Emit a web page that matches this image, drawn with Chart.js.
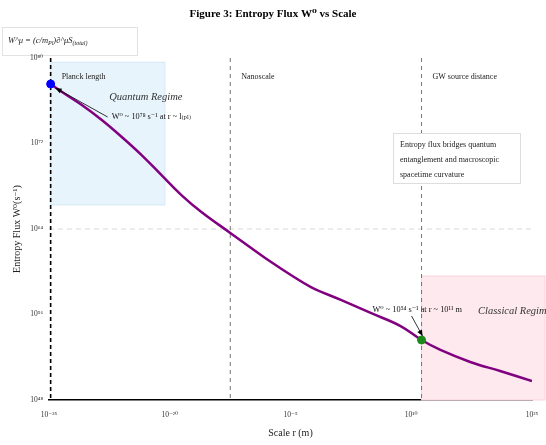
<!DOCTYPE html>
<html><head><meta charset="utf-8">
<script src="https://cdn.jsdelivr.net/npm/chart.js@4/dist/chart.umd.min.js"></script>
<style>html,body{margin:0;padding:0;background:#fff}#wrap{width:546px;height:445px;position:relative}</style>
</head><body><div id="wrap"><canvas id="c" width="546" height="445"></canvas></div>
<script>
// ---- data ----
const scaleR = [1.6e-35, 4.1e-34, 1.2e-31, 3.6e-29, 1.1e-26, 3.2e-24, 9.5e-22, 2.8e-19, 8.5e-17, 3.3e-13, 1.3e-10, 3.9e-8, 1.1e-5, 3.5e-3, 18, 9.1e4, 4.7e8, 1.9e11, 4.2e13, 2.1e17, 1.1e21, 1e25];
const entropyFlux = [3.7e77, 6.6e76, 4.0e75, 1.6e74, 4.1e72, 8.3e70, 1.1e69, 1.5e67, 3.9e65, 4.3e63, 1.7e62, 8.1e60, 5.0e59, 3.7e58, 2.3e57, 1.4e56, 8.3e54, 4.1e53, 4.8e52, 3.6e51, 5.1e50, 6.0e49];
const xTickExponents = [-35, -20, -5, 10, 25];
const yTickExponents = [48, 56, 64, 72, 80];
const planckPoint = [{x: 1.6e-35, y: 3.7e77}];
const gwPoint = [{x: 1.9e11, y: 4.1e53}];
const markerLines = [
  {x: 1.6e-35, label: 'Planck length'},
  {x: 3.3e-13, label: 'Nanoscale'},
  {x: 1.9e11, label: 'GW source distance'}
];
const quantumRegion = {x0: 1.6e-35, x1: 2.5e-21, y0: 1.8e66, y1: 4e79};
const classicalRegion = {x0: 1.9e11, y0: 1e48, y1: 4e59};
const gridLineY = 1e64;

const SUP = {'0':'⁰','1':'¹','2':'²','3':'³','4':'⁴','5':'⁵','6':'⁶','7':'⁷','8':'⁸','9':'⁹','-':'⁻'};
const sup = s => String(s).split('').map(c => SUP[c] || c).join('');
const SERIF = "'Liberation Serif', 'DejaVu Serif', serif";

function arrow(ctx, x1, y1, x2, y2) {
  ctx.save();
  ctx.strokeStyle = '#000'; ctx.fillStyle = '#000'; ctx.lineWidth = 0.8;
  ctx.beginPath(); ctx.moveTo(x1, y1); ctx.lineTo(x2, y2); ctx.stroke();
  const a = Math.atan2(y2 - y1, x2 - x1), L = 6, W = 2.6;
  ctx.beginPath();
  ctx.moveTo(x2, y2);
  ctx.lineTo(x2 - L*Math.cos(a) + W*Math.sin(a), y2 - L*Math.sin(a) - W*Math.cos(a));
  ctx.lineTo(x2 - L*Math.cos(a) - W*Math.sin(a), y2 - L*Math.sin(a) + W*Math.cos(a));
  ctx.closePath(); ctx.fill();
  ctx.restore();
}

const decor = {
  id: 'decor',
  beforeDraw(chart) {
    const {ctx} = chart;
    ctx.save();
    // formula box (under tick labels)
    ctx.fillStyle = '#fff'; ctx.fillRect(2, 27, 135, 29);
    ctx.strokeStyle = '#e2e2e2'; ctx.lineWidth = 1; ctx.strokeRect(2.5, 27.5, 135, 28);
    let cx = 8; const by = 41;
    ctx.textBaseline = 'middle'; ctx.textAlign = 'left'; ctx.fillStyle = '#222';
    const seg = (t, f, dy) => { ctx.font = f; ctx.fillText(t, cx, by + dy); cx += ctx.measureText(t).width; };
    seg('W^μ = (c/m', `italic 8.5px ${SERIF}`, 0);
    seg('Pl', `italic 6px ${SERIF}`, 2);
    seg(')∂^μS', `italic 8.5px ${SERIF}`, 0);
    seg('(total)', `italic 6px ${SERIF}`, 2);
    ctx.restore();
  },
  beforeDatasetsDraw(chart) {
    const {ctx, chartArea: a, scales: {x, y}} = chart;
    ctx.save();
    // quantum region
    let qx0 = x.getPixelForValue(quantumRegion.x0), qx1 = x.getPixelForValue(quantumRegion.x1);
    let qy0 = y.getPixelForValue(quantumRegion.y1), qy1 = y.getPixelForValue(quantumRegion.y0);
    ctx.fillStyle = '#e8f4fc'; ctx.fillRect(qx0, qy0, qx1 - qx0, qy1 - qy0);
    ctx.strokeStyle = '#d3e8f6'; ctx.lineWidth = 1; ctx.strokeRect(qx0, qy0, qx1 - qx0, qy1 - qy0);
    // classical region
    let cx0 = x.getPixelForValue(classicalRegion.x0), cx1 = chart.width - 1;
    let cy0 = y.getPixelForValue(classicalRegion.y1), cy1 = y.getPixelForValue(classicalRegion.y0);
    ctx.fillStyle = '#fde9ee'; ctx.fillRect(cx0, cy0, cx1 - cx0, cy1 - cy0);
    ctx.strokeStyle = '#f8d5dd'; ctx.strokeRect(cx0, cy0, cx1 - cx0, cy1 - cy0);
    // horizontal grid line
    const gy = y.getPixelForValue(gridLineY);
    ctx.strokeStyle = '#d8d8d8'; ctx.setLineDash([5, 4]); ctx.lineWidth = 1;
    ctx.beginPath(); ctx.moveTo(a.left, gy); ctx.lineTo(a.right, gy); ctx.stroke();
    // vertical marker lines
    markerLines.forEach((m, i) => {
      const px = x.getPixelForValue(m.x);
      ctx.strokeStyle = i === 0 ? '#000' : '#777';
      ctx.lineWidth = i === 0 ? 1.6 : 1;
      ctx.setLineDash(i === 0 ? [4, 3] : [4, 4]);
      ctx.beginPath(); ctx.moveTo(px, a.top); ctx.lineTo(px, a.bottom); ctx.stroke();
    });
    ctx.restore();
  },
  afterDatasetsDraw(chart) {
    const {ctx, chartArea: a, scales: {x, y}} = chart;
    ctx.save();
    ctx.fillStyle = '#222'; ctx.textBaseline = 'middle'; ctx.textAlign = 'left';
    ctx.font = `8px ${SERIF}`;
    markerLines.forEach(m => {
      ctx.fillText(m.label, x.getPixelForValue(m.x) + 11, a.top + 19);
    });
    // regime labels
    ctx.font = `italic 10.5px ${SERIF}`; ctx.fillStyle = '#333';
    ctx.fillText('Quantum Regime', x.getPixelForValue(3e-28), a.top + 39);
    ctx.fillText('Classical Regime', x.getPixelForValue(2e18), y.getPixelForValue(2e56));
    // annotations
    ctx.font = `8.3px ${SERIF}`; ctx.fillStyle = '#111';
    const p0x = x.getPixelForValue(planckPoint[0].x), p0y = y.getPixelForValue(planckPoint[0].y);
    ctx.fillText('W⁰ ~ 10⁷⁸ s⁻¹ at r ~ l₍ₚₗ₎', p0x + 61, p0y + 33);
    arrow(ctx, p0x + 57, p0y + 33, p0x + 5, p0y + 4);
    const g0x = x.getPixelForValue(gwPoint[0].x), g0y = y.getPixelForValue(gwPoint[0].y);
    ctx.fillText('W⁰ ~ 10⁵⁴ s⁻¹ at r ~ 10¹¹ m', g0x - 49, g0y - 30);
    arrow(ctx, g0x - 10, g0y - 24, g0x + 1, g0y - 4);
    // info box
    ctx.fillStyle = '#fff'; ctx.fillRect(393, 133, 127, 50);
    ctx.strokeStyle = '#ddd'; ctx.lineWidth = 1; ctx.strokeRect(393.5, 133.5, 127, 50);
    ctx.fillStyle = '#222'; ctx.font = `8px ${SERIF}`;
    ['Entropy flux bridges quantum', 'entanglement and macroscopic', 'spacetime curvature']
      .forEach((t, i) => ctx.fillText(t, 400, 145 + i * 15));
    // titles
    ctx.textAlign = 'center'; ctx.fillStyle = '#000';
    ctx.font = `bold 11px ${SERIF}`;
    ctx.fillText('Figure 3: Entropy Flux W⁰ vs Scale', 273, 14);
    ctx.font = `10px ${SERIF}`; ctx.fillStyle = '#222';
    ctx.fillText('Scale r (m)', (a.left + a.right) / 2, 433);
    ctx.translate(17, (a.top + a.bottom) / 2); ctx.rotate(-Math.PI / 2);
    ctx.fillText('Entropy Flux W⁰(s⁻¹)', 0, 0);
    ctx.restore();
  }
};

new Chart(document.getElementById('c'), {
  data: {
    datasets: [
      {type: 'scatter', data: planckPoint, backgroundColor: '#0000ff', borderColor: '#0000ff', pointRadius: 4, clip: false, order: 0},
      {type: 'scatter', data: gwPoint, backgroundColor: '#1a8a1a', borderColor: '#1a8a1a', pointRadius: 4, clip: false, order: 0},
      {type: 'line', data: scaleR.map((r, i) => ({x: r, y: entropyFlux[i]})), borderColor: '#800080',
       borderWidth: 2.5, pointRadius: 0, tension: 0.4, fill: false, order: 1}
    ]
  },
  options: {
    responsive: false, devicePixelRatio: 1, animation: false,
    layout: {padding: {top: 58, right: 14, left: 0, bottom: 0}},
    plugins: {legend: {display: false}, tooltip: {enabled: false}},
    scales: {
      x: {
        type: 'logarithmic', min: 1e-35, max: 1e25,
        afterBuildTicks: s => { s.ticks = xTickExponents.map(e => ({value: Math.pow(10, e)})); },
        afterFit: s => { s.height = 45; },
        ticks: {callback: v => '10' + sup(Math.round(Math.log10(v))), font: {size: 7.5, family: SERIF}, color: '#333', padding: 3, maxRotation: 0, autoSkip: false},
        grid: {display: false},
        border: {display: true, color: '#000', width: 1.5}
      },
      y: {
        type: 'logarithmic', min: 1e48, max: 1e80,
        afterBuildTicks: s => { s.ticks = yTickExponents.map(e => ({value: Math.pow(10, e)})); },
        afterFit: s => { s.width = 49; },
        ticks: {callback: v => '10' + sup(Math.round(Math.log10(v))), font: {size: 7.5, family: SERIF}, color: '#333', padding: -2, autoSkip: false},
        grid: {display: false},
        border: {display: false}
      }
    }
  },
  plugins: [decor]
});
</script>
</body></html>
